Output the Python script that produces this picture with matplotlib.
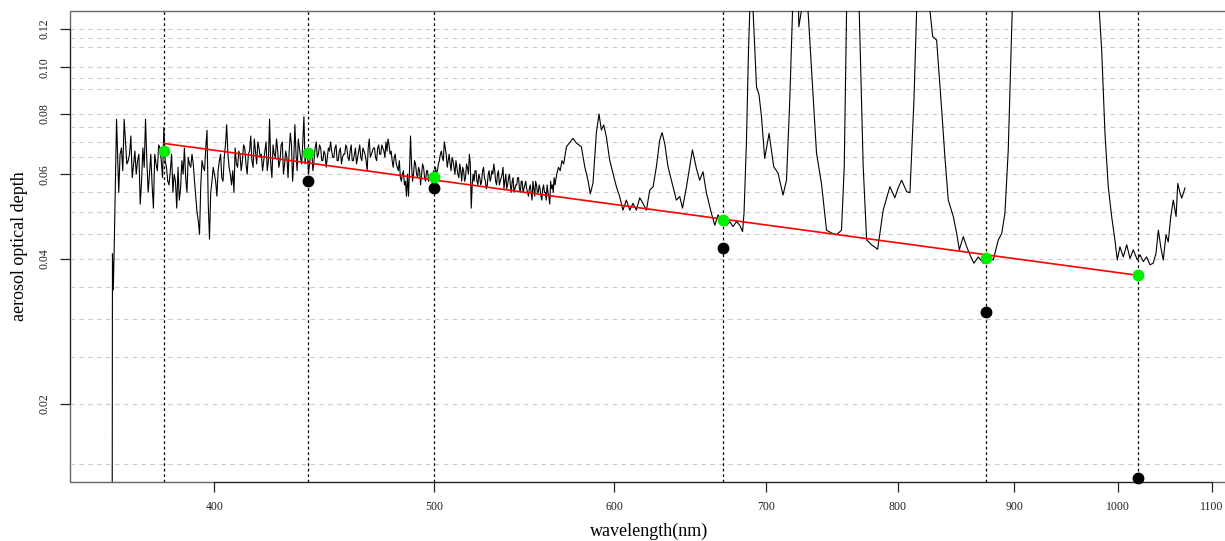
import numpy as np
import matplotlib
matplotlib.use("Agg")
import matplotlib.pyplot as plt
from matplotlib.patches import Rectangle
from matplotlib.ticker import NullLocator

plt.rcParams['font.family'] = ['Liberation Serif', 'DejaVu Serif']

# spectral AOD (black trace)
wl_start = [360.5, 360.7, 361.0, 361.3, 362.2]
aod_start = [0.003, 0.041, 0.0345, 0.041, 0.078]

wl_noisy = np.arange(363, 571)  # 1 nm sampling
aod_noisy = [
    0.055, 0.068, 0.078, 0.063, 0.066, 0.059, 0.067, 0.064,
    0.052, 0.068, 0.078, 0.055, 0.066, 0.051, 0.063, 0.069, 0.064, 0.075,
    0.062, 0.057, 0.066, 0.060, 0.051, 0.053, 0.064, 0.068, 0.055, 0.063,
    0.066, 0.058, 0.050, 0.045, 0.064, 0.061, 0.074, 0.044, 0.058, 0.060,
    0.054, 0.064, 0.059, 0.065, 0.076, 0.062, 0.057, 0.055, 0.063, 0.067,
    0.061, 0.069, 0.063, 0.066, 0.072, 0.062, 0.067, 0.070, 0.065, 0.061,
    0.067, 0.061, 0.078, 0.059, 0.066, 0.071, 0.062, 0.069, 0.060, 0.067,
    0.059, 0.073, 0.058, 0.076, 0.061, 0.068, 0.063, 0.079, 0.066, 0.060,
    0.066, 0.061, 0.068, 0.065, 0.069, 0.064, 0.067, 0.062, 0.068, 0.070,
    0.065, 0.068, 0.064, 0.067, 0.063, 0.066, 0.069, 0.065, 0.067, 0.064,
    0.066, 0.063, 0.067, 0.065, 0.068, 0.066, 0.061, 0.071, 0.066, 0.068,
    0.065, 0.068, 0.066, 0.069, 0.067, 0.070, 0.071, 0.066, 0.064, 0.065,
    0.063, 0.061, 0.059, 0.060, 0.057, 0.054, 0.054, 0.072, 0.058, 0.064,
    0.060, 0.062, 0.057, 0.063, 0.059, 0.061, 0.058, 0.060, 0.057, 0.059,
    0.060, 0.063, 0.066, 0.065, 0.070, 0.066, 0.064, 0.063, 0.065, 0.062,
    0.064, 0.060, 0.063, 0.058, 0.061, 0.059, 0.062, 0.066, 0.051, 0.060,
    0.061, 0.058, 0.060, 0.057, 0.061, 0.059, 0.056, 0.060, 0.058, 0.061,
    0.063, 0.058, 0.060, 0.057, 0.059, 0.062, 0.058, 0.056, 0.059, 0.057,
    0.058, 0.055, 0.057, 0.059, 0.056, 0.058, 0.055, 0.057, 0.056, 0.054,
    0.057, 0.053, 0.056, 0.058, 0.055, 0.057, 0.054, 0.056, 0.055, 0.053,
    0.055, 0.052, 0.056, 0.055, 0.057, 0.060, 0.062, 0.061, 0.064, 0.063,
]

# in-between samples (x.5 nm) of the dense part
wl_half = np.arange(363.5, 565, 1)
aod_half = [
    0.066, 0.061, 0.070, 0.064, 0.072, 0.063, 0.060, 0.066, 0.058, 0.062,
    0.064, 0.060, 0.057, 0.066, 0.061, 0.068, 0.059, 0.064, 0.058, 0.061,
    0.055, 0.058, 0.062, 0.056, 0.060, 0.059, 0.065, 0.062, 0.063, 0.054,
    0.048, 0.057, 0.062, 0.068, 0.052, 0.055, 0.062,
    0.058, 0.061, 0.066, 0.058, 0.069, 0.066, 0.060, 0.061, 0.068, 0.062,
    0.066, 0.064, 0.068, 0.060, 0.067, 0.064, 0.071, 0.063, 0.068, 0.066,
    0.064, 0.070, 0.064, 0.063, 0.069, 0.065, 0.067, 0.064, 0.070, 0.063,
    0.065, 0.067, 0.069, 0.064, 0.066, 0.071, 0.065, 0.070, 0.063, 0.068,
    0.063, 0.067, 0.064, 0.070, 0.066, 0.068, 0.064, 0.066, 0.065, 0.067,
    0.067, 0.065, 0.069, 0.064, 0.068, 0.065, 0.066, 0.068, 0.064, 0.069,
    0.064, 0.068, 0.065, 0.069, 0.064, 0.067, 0.064, 0.068, 0.065, 0.067,
    0.068, 0.064, 0.069, 0.066, 0.068, 0.065, 0.067, 0.069, 0.067, 0.062,
    0.066, 0.062, 0.064, 0.058, 0.061, 0.058, 0.060, 0.061, 0.063, 0.060,
    0.063, 0.059, 0.061, 0.060, 0.062, 0.058, 0.061, 0.059, 0.060, 0.061,
    0.062, 0.061, 0.064, 0.067, 0.064, 0.068, 0.062, 0.066, 0.061, 0.064,
    0.060, 0.062, 0.059, 0.061, 0.062, 0.058, 0.063, 0.060, 0.063, 0.057,
    0.058, 0.061, 0.057, 0.059, 0.058, 0.062, 0.058, 0.057, 0.061, 0.059,
    0.060, 0.061, 0.057, 0.061, 0.058, 0.060, 0.056, 0.060, 0.057, 0.060,
    0.055, 0.059, 0.056, 0.057, 0.059, 0.055, 0.058, 0.056, 0.058, 0.055,
    0.056, 0.055, 0.058, 0.054, 0.057, 0.055, 0.056, 0.053, 0.057, 0.055,
    0.057, 0.054, 0.058, 0.057, 0.059,
]

wl_vis = [571.6, 575.4, 577.4, 580.3, 582.3, 584.2, 585.6, 587.2, 589.2, 590.8,
          592.2, 593.6, 595.2, 597.2, 599.2, 601.3, 603.3, 605.3, 607.4, 609.5,
          611.5, 613.6, 615.7, 617.7, 619.9, 622.0, 624.1, 626.2, 628.3, 629.8,
          631.5, 633.6, 636.8, 639.0, 641.2, 643.0, 645.6, 647.7, 649.5, 652.1,
          654.3, 656.5, 658.8, 662.1, 664.4, 666.6, 668.9, 672.4, 674.6, 676.8,
          679.2, 681.4, 683.4, 684.4, 686.1, 687.5]
aod_vis = [0.0684, 0.0712, 0.0696, 0.0684, 0.0622, 0.0583, 0.0546, 0.0575, 0.0731, 0.0800,
           0.0741, 0.0759, 0.0718, 0.0642, 0.0603, 0.0565, 0.0539, 0.0505, 0.0530, 0.0505,
           0.0522, 0.0505, 0.0536, 0.0522, 0.0505, 0.0556, 0.0565, 0.0622, 0.0706, 0.0732,
           0.0695, 0.0622, 0.0565, 0.0530, 0.0539, 0.0510, 0.0565, 0.0622, 0.0674, 0.0617,
           0.0583, 0.0607, 0.0548, 0.0498, 0.0470, 0.0494, 0.0482, 0.0470, 0.0478, 0.0467,
           0.0478, 0.0470, 0.0456, 0.0499, 0.0706, 0.1086]

wl_nir = [688.4, 689.5, 690.7, 693.1, 694.9, 696.6, 698.9, 702.0, 705.3, 708.4,
          712.0, 714.5, 716.9, 718.9, 721.0, 723.5, 725.4, 727.8, 730.3, 736.6,
          740.3, 744.1, 747.9, 751.7, 755.5, 757.6, 759.4, 764.0, 769.2, 772.3,
          775.0, 778.9, 783.7, 788.1, 793.5, 797.5, 800.2, 803.0, 807.1, 809.8,
          813.1, 815.3, 821.0, 826.4, 828.7, 832.0, 836.3, 839.0, 841.9, 846.2,
          849.1, 851.4, 854.8, 857.8, 860.6, 864.1, 867.9, 872.3, 876.8, 881.2,
          885.7, 888.8, 891.7, 894.7, 896.9, 898.3, 920.0, 940.0, 960.0, 981.2,
          983.6, 986.9, 990.2, 993.6, 996.9, 999.3, 1002.0, 1005.4, 1008.9, 1012.3,
          1015.6, 1019.8, 1022.6, 1026.0, 1029.5, 1033.0, 1036.4, 1039.3, 1041.8, 1044.3,
          1047.0, 1049.9, 1052.3, 1055.0, 1057.7, 1060.7, 1062.5, 1065.0, 1066.8, 1070.4]
aod_nir = [0.131, 0.25, 0.131, 0.0911, 0.0876, 0.0790, 0.0647, 0.0729, 0.0622, 0.0603,
           0.0543, 0.0583, 0.0855, 0.131, 0.30, 0.1214, 0.131, 0.30, 0.131, 0.0663,
           0.0574, 0.0459, 0.0453, 0.0449, 0.0459, 0.0622, 0.131, 0.40, 0.131, 0.0622,
           0.0438, 0.0428, 0.0419, 0.0505, 0.0565, 0.0536, 0.0562, 0.0583, 0.0552, 0.0549,
           0.0855, 0.131, 0.40, 0.131, 0.1158, 0.1139, 0.0815, 0.0652, 0.0530, 0.0490,
           0.0452, 0.0418, 0.0445, 0.0424, 0.0408, 0.0392, 0.0404, 0.0392, 0.0404, 0.0398,
           0.0438, 0.0452, 0.0498, 0.0674, 0.1003, 0.131, 0.6, 0.9, 0.6, 0.131,
           0.1086, 0.0729, 0.0565, 0.0490, 0.0438, 0.0398, 0.0424, 0.0404, 0.0428, 0.0401,
           0.0418, 0.0398, 0.0408, 0.0395, 0.0404, 0.0389, 0.0392, 0.0411, 0.0459, 0.0424,
           0.0398, 0.0449, 0.0434, 0.0490, 0.0530, 0.0490, 0.0574, 0.0548, 0.0535, 0.0562]

# channel values
channels = [380, 440, 500, 670, 875, 1020]
aod_green = [0.0671, 0.0663, 0.0593, 0.0482, 0.0401, 0.0371]
aod_black = [np.nan, 0.0581, 0.0561, 0.0421, 0.0311, 0.01404]

# fitted angstrom line, end points
fit_wl = [380, 1020]
fit_aod = [0.0695, 0.0370]

grid_levels = [0.015, 0.02, 0.025, 0.03, 0.035, 0.04, 0.045, 0.05, 0.055, 0.06,
               0.065, 0.07, 0.075, 0.08, 0.09, 0.095, 0.10, 0.11, 0.115, 0.12]
yticks = [0.02, 0.04, 0.06, 0.08, 0.10, 0.12]
ytick_labels = ['0.02', '0.04', '0.06', '0.08', '0.10', '0.12']
xticks = [400, 500, 600, 700, 800, 900, 1000, 1100]

wl = np.concatenate([wl_start, wl_noisy, wl_half, wl_vis, wl_nir])
aod = np.concatenate([aod_start, aod_noisy, aod_half, aod_vis, aod_nir])
order = np.argsort(wl)
wl, aod = wl[order], aod[order]

W, H = 1225, 541
fig = plt.figure(figsize=(W / 100, H / 100), dpi=100)
ax = fig.add_axes([70 / W, 59 / H, 1165 / W, 471 / H])
ax.set_xscale('log')
ax.set_yscale('log')
ax.set_xlim(345.5, 1126)
ax.set_ylim(0.01377, 0.1309)

for g in grid_levels:
    ax.axhline(g, color='#cccccc', lw=0.8, dashes=(4, 4), zorder=1)
for c in channels:
    ax.axvline(c, color='black', lw=0.9, dashes=(2.2, 2.2), zorder=2)

ax.plot(wl, aod, color='black', lw=0.8, zorder=3)
ax.plot(fit_wl, fit_aod, color='#ff0000', lw=1.2, zorder=4)
ax.plot(channels, aod_black, 'o', color='black', ms=7.5, zorder=5, clip_on=False)
ax.plot(channels, aod_green, 'o', color='#00ee00', ms=7.5, zorder=6)

# box in grey, axis lines in black between outer ticks
ax.add_patch(Rectangle((0, 0), 1, 1, transform=ax.transAxes, fill=False,
                       edgecolor='#666666', lw=1, clip_on=False, zorder=0.5))
for s in ['top', 'right']:
    ax.spines[s].set_visible(False)
ax.spines['left'].set_bounds(0.02, 0.12)
ax.spines['bottom'].set_bounds(400, 1100)
ax.spines['left'].set_color('#222222')
ax.spines['bottom'].set_color('#222222')

ax.set_xticks(xticks, [str(t) for t in xticks])
ax.set_yticks(yticks, ytick_labels)
ax.xaxis.set_minor_locator(NullLocator())
ax.yaxis.set_minor_locator(NullLocator())
ax.tick_params(axis='x', length=7, width=0.9, pad=7, labelsize=8.5, colors='#222222')
ax.tick_params(axis='y', length=7, width=0.9, pad=7, labelsize=8.5, colors='#222222')
for lab in ax.get_yticklabels():
    lab.set_rotation(90)
    lab.set_va('center')

fig.text(649 / W, 1 - 531 / H, 'wavelength(nm)', ha='center', va='center', fontsize=13)
fig.text(20 / W, 1 - 246 / H, 'aerosol optical depth', ha='center', va='center',
         rotation=90, fontsize=13)

fig.savefig('out.png', dpi=100)
